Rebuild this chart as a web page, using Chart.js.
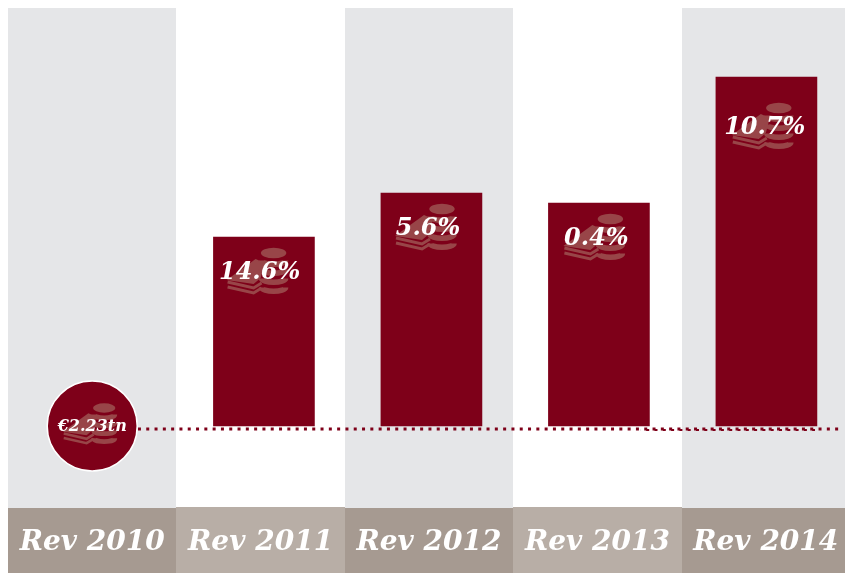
<!DOCTYPE html>
<html>
<head>
<meta charset="utf-8">
<style>
html, body { margin: 0; padding: 0; background: #fff; overflow: hidden; }
#wrap { width: 845px; height: 573px; overflow: hidden; }
canvas { display: block; }
</style>
<script src="https://cdn.jsdelivr.net/npm/chart.js@4"></script>
</head>
<body>
<div id="wrap"><canvas id="myChart" width="850" height="573"></canvas></div>
<script>
const categories = ['Rev 2010', 'Rev 2011', 'Rev 2012', 'Rev 2013', 'Rev 2014'];
const barYears = [2011, 2012, 2013, 2014];
const barLevels = [271, 315, 305, 431];
const growthLabels = ['14.6%', '5.6%', '0.4%', '10.7%'];
const startLevel = 82;
const startLabel = '€2.23tn';
const dottedLevel = 79;
const dottedYears = [2010, 2014.44];
const overlapYears = [2013.25, 2014.29];

const RED = '#7e0019';
const ICON = '#984548';
const SERIF = '"DejaVu Serif", serif';

// coins and stacked notes, origin at the middle of the top coin
function drawIcon(ctx, x, y, s) {
    ctx.save();
    ctx.translate(x, y);
    ctx.scale(s, s);
    ctx.fillStyle = ICON;
    ctx.strokeStyle = ICON;

    ctx.beginPath();
    ctx.moveTo(-47, 27);
    ctx.lineTo(-18, 6);
    ctx.lineTo(-9, 10);
    ctx.lineTo(-13, 25);
    ctx.lineTo(-20, 31);
    ctx.closePath();
    ctx.fill();

    ctx.lineWidth = 3;
    [[29, 35, 30], [34, 40, 35]].forEach(function (p) {
        ctx.beginPath();
        ctx.moveTo(-46, p[0]);
        ctx.lineTo(-20, p[1]);
        ctx.lineTo(-12, p[2]);
        ctx.stroke();
    });

    ctx.beginPath();
    ctx.ellipse(0, 0, 12.7, 5.3, 0, 0, Math.PI * 2);
    ctx.fill();
    ctx.lineWidth = 5.5;
    [14, 23, 32, 41].forEach(function (bottom) {
        ctx.beginPath();
        ctx.ellipse(0, bottom - 6.5, 12, 3.7, 0, 0, Math.PI);
        ctx.stroke();
    });
    ctx.restore();
}

const panels = {
    id: 'panels',
    beforeDraw(chart) {
        const { ctx, chartArea: { top, bottom }, scales: { x }, height } = chart;
        const w = x.getPixelForTick(1) - x.getPixelForTick(0);
        ctx.save();
        categories.forEach(function (c, i) {
            const left = Math.round(x.getPixelForTick(i) - w / 2);
            const right = Math.round(x.getPixelForTick(i) + w / 2);
            if (i % 2 === 0) {
                ctx.fillStyle = '#e5e6e8';
                ctx.fillRect(left, top, right - left, bottom - top);
                ctx.fillStyle = '#a69a91';
                ctx.fillRect(left, bottom, right - left, height - bottom);
            } else {
                ctx.fillStyle = '#b8aea6';
                ctx.fillRect(left, bottom - 1, right - left, height - bottom + 1);
            }
        });
        ctx.restore();
    }
};

const annotations = {
    id: 'annotations',
    afterDatasetsDraw(chart) {
        const { ctx, scales: { x } } = chart;
        const bars = chart.getDatasetMeta(2).data;
        const circle = chart.getDatasetMeta(0).data[0];
        ctx.save();
        ctx.textAlign = 'center';
        ctx.textBaseline = 'middle';

        drawIcon(ctx, circle.x + 12, circle.y - 18, 0.88);
        ctx.fillStyle = '#fff';
        ctx.font = 'italic bold 16px ' + SERIF;
        ctx.fillText(startLabel, circle.x, circle.y + 1);

        bars.forEach(function (bar, i) {
            // the last bar carries its label lower than the others
            const drop = i === 3 ? 15 : 0;
            const cx = x.getPixelForTick(i + 1);
            drawIcon(ctx, cx + 13, bar.y + 16 + drop, 1);
            ctx.fillStyle = '#fff';
            ctx.font = 'italic bold 24px ' + SERIF;
            ctx.fillText(growthLabels[i], cx - 1, bar.y + 35.5 + drop);
        });
        ctx.restore();
    }
};

const config = {
    type: 'bar',
    data: {
        labels: categories,
        datasets: [
            {
                type: 'line',
                order: 0,
                xAxisID: 'x',
                data: [startLevel, null, null, null, null],
                showLine: false,
                pointRadius: 45,
                pointBackgroundColor: RED,
                pointBorderColor: '#fff',
                pointBorderWidth: 1.5
            },
            {
                type: 'line',
                order: 2,
                xAxisID: 'xYear',
                data: dottedYears.map(function (year) { return { x: year, y: dottedLevel }; }),
                borderColor: RED,
                borderWidth: 3,
                borderDash: [3, 5.3],
                pointRadius: 0
            },
            {
                order: 1,
                xAxisID: 'xYear',
                data: barYears.map(function (year, i) { return { x: year, y: barLevels[i] }; }),
                base: startLevel,
                backgroundColor: RED,
                barThickness: 101,
                grouped: false
            },
            {
                // second run of dots under the last two columns
                type: 'line',
                order: 3,
                xAxisID: 'xYear',
                data: overlapYears.map(function (year) { return { x: year, y: dottedLevel - 1 }; }),
                borderColor: RED,
                borderWidth: 2,
                borderDash: [3, 5.3],
                borderDashOffset: 2.9,
                pointRadius: 0
            }
        ]
    },
    options: {
        responsive: false,
        animation: false,
        layout: { autoPadding: false, padding: { top: 8, left: 8, right: 0, bottom: 0 } },
        scales: {
            x: {
                grid: { display: false },
                border: { display: false },
                afterFit(scale) { scale.height = 65; },
                ticks: {
                    autoSkip: false,
                    maxRotation: 0,
                    padding: 10,
                    color: '#fff',
                    font: { family: SERIF, size: 28, style: 'italic', weight: 'bold' }
                }
            },
            // hidden axis the bars and the dotted line sit on
            xYear: {
                type: 'linear',
                display: false,
                min: 2009.472,
                max: 2014.499,
                offset: false
            },
            y: {
                display: false,
                min: 0,
                max: 500
            }
        },
        plugins: {
            legend: { display: false },
            tooltip: { enabled: false }
        }
    },
    plugins: [panels, annotations]
};

var myChart = new Chart(document.getElementById('myChart'), config);
</script>
</body>
</html>
